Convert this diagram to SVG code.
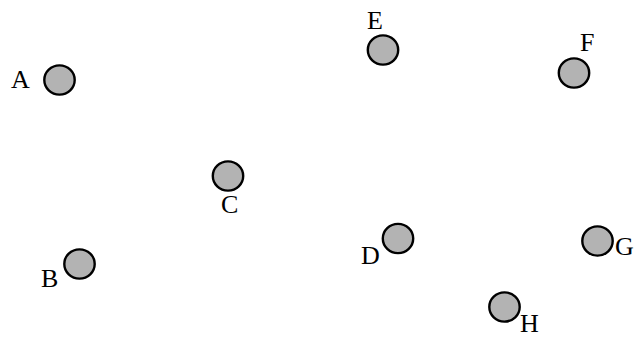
<svg xmlns="http://www.w3.org/2000/svg" width="637" height="338" viewBox="0 0 637 338">
<style>
.n{fill:#b3b3b3;stroke:#000;stroke-width:2.4}
.l{font-family:"Liberation Serif","Times New Roman",serif;font-size:26px;fill:#000}
</style>
<rect width="637" height="338" fill="#fff"/>
<g id="connectors"></g>
<g id="A"><ellipse class="n" cx="59.5" cy="80" rx="15.2" ry="14.6"/><text class="l" x="11" y="88">A</text></g>
<g id="E"><ellipse class="n" cx="383" cy="50" rx="15.2" ry="14.6"/><text class="l" x="367" y="29">E</text></g>
<g id="F"><ellipse class="n" cx="574" cy="73" rx="15.2" ry="14.6"/><text class="l" x="580" y="51">F</text></g>
<g id="C"><ellipse class="n" cx="228" cy="176" rx="15.2" ry="14.6"/><text class="l" x="221" y="213">C</text></g>
<g id="B"><ellipse class="n" cx="79.5" cy="264" rx="15.2" ry="14.6"/><text class="l" x="41" y="287">B</text></g>
<g id="D"><ellipse class="n" cx="398" cy="238.5" rx="15.2" ry="14.6"/><text class="l" x="361" y="264">D</text></g>
<g id="G"><ellipse class="n" cx="597.5" cy="241" rx="15.2" ry="14.6"/><text class="l" x="615" y="255">G</text></g>
<g id="H"><ellipse class="n" cx="504.5" cy="307" rx="15.2" ry="14.6"/><text class="l" x="520" y="332">H</text></g>
</svg>
